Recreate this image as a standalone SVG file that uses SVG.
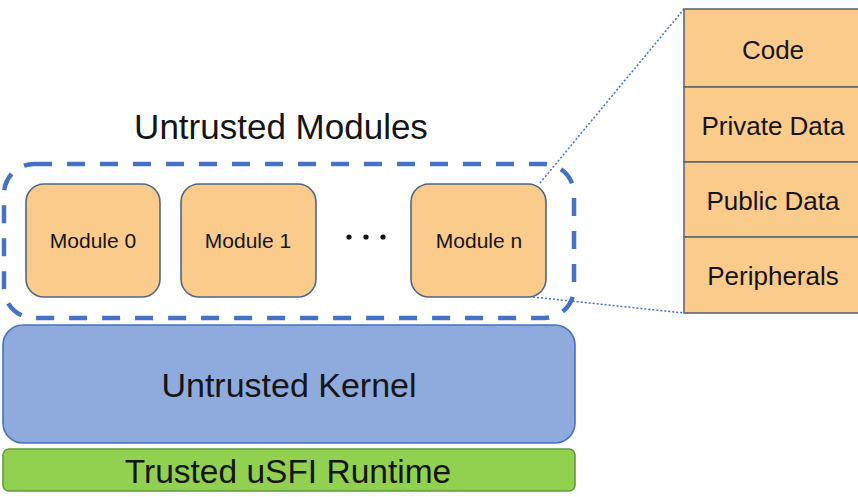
<svg xmlns="http://www.w3.org/2000/svg" width="858" height="497" viewBox="0 0 858 497">
<style>
text{font-family:"Liberation Sans",Arial,sans-serif;fill:#151515;text-anchor:middle}
.mod{fill:#FBCB8B;stroke:#4E6787;stroke-width:1.6}
.seg{fill:#FBCB8B;stroke:#5F6670;stroke-width:1.6}
.lbl{font-size:21px}
.seglbl{font-size:26px}
.zoomline{fill:none;stroke:#4472C4;stroke-width:1.5;stroke-dasharray:2 2}
</style>
<rect width="858" height="497" fill="#ffffff"/>
<g id="untrusted-modules">
<rect x="4" y="164" width="570" height="154" rx="30" fill="none" stroke="#4472C4" stroke-width="4.5" stroke-dasharray="18 15"/>
<text x="281" y="139" font-size="35">Untrusted Modules</text>
</g>
<g id="module0">
<rect class="mod" x="26" y="184" width="134" height="113" rx="18"/>
<text class="lbl" x="93" y="248">Module 0</text>
</g>
<g id="module1">
<rect class="mod" x="181" y="184" width="135" height="113" rx="18"/>
<text class="lbl" x="248" y="248">Module 1</text>
</g>
<g id="ellipsis">
<circle cx="349" cy="237" r="2.6" fill="#111"/>
<circle cx="366" cy="237" r="2.6" fill="#111"/>
<circle cx="383" cy="237" r="2.6" fill="#111"/>
</g>
<g id="modulen">
<rect class="mod" x="411" y="184" width="135" height="113" rx="18"/>
<text class="lbl" x="479" y="248">Module n</text>
</g>
<g id="connectors">
<line class="zoomline" x1="540" y1="183" x2="684" y2="9"/>
<line class="zoomline" x1="533" y1="297" x2="684" y2="313"/>
</g>
<g id="module-layout">
<rect class="seg" x="684" y="9" width="180" height="78"/>
<text class="seglbl" x="773" y="59">Code</text>
<rect class="seg" x="684" y="87" width="180" height="75"/>
<text class="seglbl" x="773" y="135">Private Data</text>
<rect class="seg" x="684" y="162" width="180" height="75"/>
<text class="seglbl" x="773" y="210">Public Data</text>
<rect class="seg" x="684" y="237" width="180" height="76"/>
<text class="seglbl" x="773" y="285">Peripherals</text>
</g>
<g id="kernel">
<rect x="3" y="325" width="572" height="118" rx="20" fill="#8FAADC" stroke="#4472C4" stroke-width="1.6"/>
<text x="289" y="397" font-size="34">Untrusted Kernel</text>
</g>
<g id="runtime">
<rect x="3" y="449" width="572" height="42" rx="6" fill="#92D050" stroke="#5E9C3A" stroke-width="1.6"/>
<text x="288" y="483" font-size="33.5">Trusted uSFI Runtime</text>
</g>
</svg>
